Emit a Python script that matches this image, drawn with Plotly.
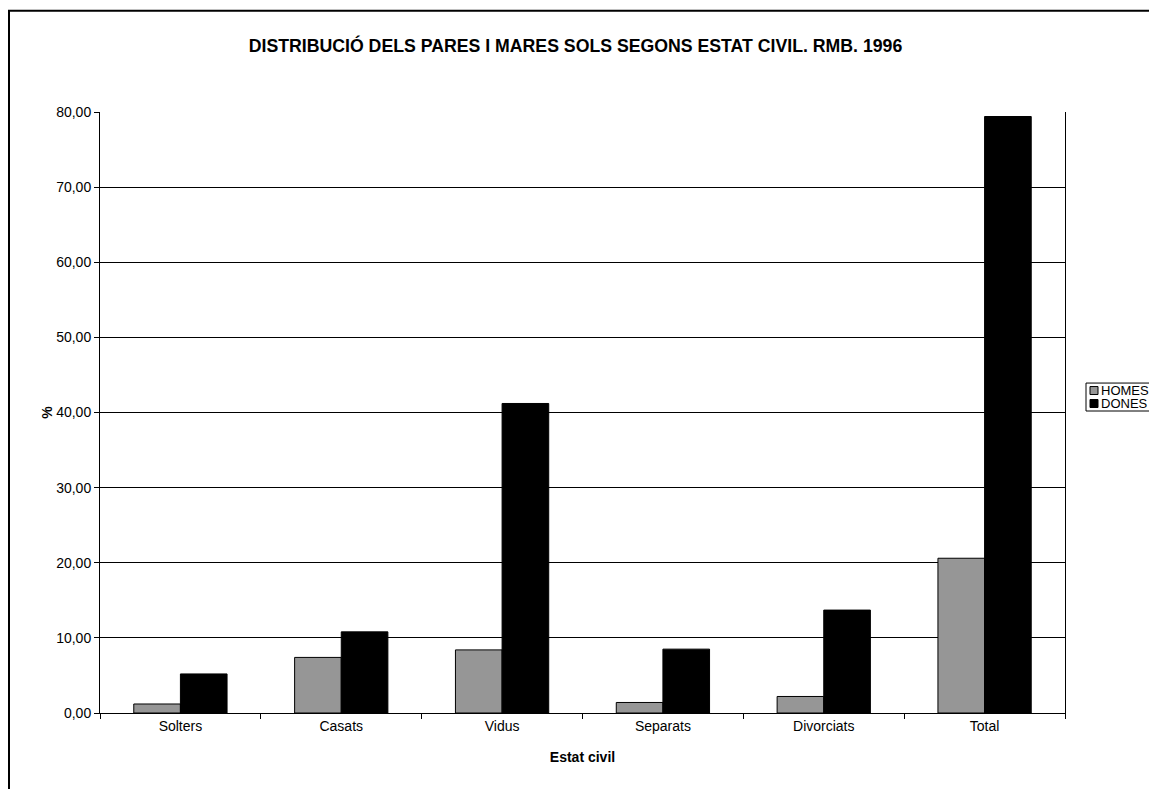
import plotly.graph_objects as go

categories = ["Solters", "Casats", "Vidus", "Separats", "Divorciats", "Total"]
homes = [1.2, 7.4, 8.4, 1.4, 2.2, 20.6]
dones = [5.2, 10.8, 41.2, 8.5, 13.7, 79.4]
y_ticks = [0, 10, 20, 30, 40, 50, 60, 70, 80]
series_names = ["HOMES", "DONES"]
series_colors = ["#969696", "#000000"]

# page offset from browser body margin
OFF = 8
W, H = 1157 - OFF, 789 - OFF
# plot area edges in page pixels
PL, PR, PT, PB = 100, 1065, 111.5, 713.5
L, R, T, B = PL - OFF, PR - OFF, PT - OFF, PB - OFF

font = "Liberation Sans, Arial, sans-serif"

fig = go.Figure()
for name, vals, col in zip(series_names, [homes, dones], series_colors):
    fig.add_trace(go.Bar(name=name, x=categories, y=vals,
                         marker=dict(color=col, line=dict(color="black", width=1))))

def px_x(p):  # page px -> paper x
    return (p - PL) / (PR - PL)

def px_y(p):  # page px -> paper y
    return (PB - p) / (PB - PT)

fig.update_layout(
    width=W, height=H,
    margin=dict(l=L, r=W - R, t=T, b=H - B, pad=0),
    paper_bgcolor="white", plot_bgcolor="white",
    barmode="group", bargap=0.42, bargroupgap=0,
    separators=",.",
    font=dict(family=font, size=14, color="black"),
    title=dict(text="<b>DISTRIBUCIÓ DELS PARES I MARES SOLS SEGONS ESTAT CIVIL. RMB. 1996</b>",
               x=px_x(575.5), xanchor="center", xref="paper",
               y=1 - (46 - OFF) / H, yanchor="middle",
               font=dict(family=font, size=17.7, color="black")),
    showlegend=False,
)
fig.update_xaxes(
    type="category", showline=True, linecolor="black", linewidth=1,
    ticks="outside", ticklen=5, tickcolor="black", tickson="boundaries",
    showgrid=False, mirror=False,
    title=dict(text="<b>Estat civil</b>", standoff=19, font=dict(size=14)),
)
fig.update_yaxes(
    range=[0, 80], tickvals=y_ticks, tickformat=".2f",
    showline=True, linecolor="black", linewidth=1, mirror=True,
    ticks="outside", ticklen=5, tickcolor="black",
    showgrid=True, gridcolor="black", gridwidth=1, zeroline=False,
    title=dict(text="<b>%</b>", standoff=0, font=dict(size=14)),
)
# outer chart border (right and bottom edges fall outside the view)
fig.add_shape(type="rect", xref="paper", yref="paper",
              x0=px_x(9), x1=px_x(1175), y0=px_y(830), y1=px_y(10),
              line=dict(color="black", width=2), fillcolor="rgba(0,0,0,0)", layer="below")

# manual legend (Excel style)
box_top, box_bot, box_left = 383, 411, 1086
fig.add_shape(type="rect", xref="paper", yref="paper",
              x0=px_x(box_left), x1=px_x(1175), y0=px_y(box_bot), y1=px_y(box_top),
              line=dict(color="black", width=1), fillcolor="white")
row_centers = [390.5, 403.5]
for name, col, yc in zip(series_names, series_colors, row_centers):
    fig.add_shape(type="rect", xref="paper", yref="paper",
                  x0=px_x(1090), x1=px_x(1098), y0=px_y(yc + 4), y1=px_y(yc - 4),
                  line=dict(color="black", width=1), fillcolor=col)
    fig.add_annotation(text=name, xref="paper", yref="paper",
                       x=px_x(1099), y=px_y(yc), xanchor="left", yanchor="middle",
                       showarrow=False, font=dict(family=font, size=13, color="black"))

fig.write_html("out.html")
